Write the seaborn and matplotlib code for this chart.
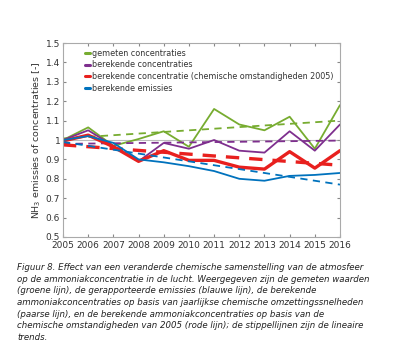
import numpy as np
import matplotlib
matplotlib.use("Agg")
import matplotlib.pyplot as plt
import seaborn as sns
import pandas as pd

# ====== DATA ======
jaren = list(range(2005, 2017))
gemeten = [1.00, 1.065, 0.97, 1.005, 1.045, 0.965, 1.16, 1.08, 1.05, 1.12, 0.955, 1.18]
berekend = [1.00, 1.05, 0.97, 0.89, 0.985, 0.955, 1.00, 0.945, 0.935, 1.045, 0.945, 1.08]
berekend_2005 = [0.995, 1.025, 0.965, 0.89, 0.945, 0.895, 0.895, 0.86, 0.85, 0.94, 0.855, 0.945]
emissies = [1.00, 1.02, 0.985, 0.90, 0.885, 0.865, 0.84, 0.80, 0.79, 0.815, 0.82, 0.83]

# trendlijnen: begin- en eindwaarde (2005, 2016)
trend_jaren = [2005, 2016]
trend_gemeten = [1.008, 1.10]
trend_berekend = [0.98, 0.997]
trend_berekend_2005 = [0.975, 0.87]
trend_emissies = [0.99, 0.77]

labels = ["gemeten concentraties", "berekende concentraties",
          "berekende concentratie (chemische omstandigheden 2005)", "berekende emissies"]
kleuren = ["#77AC30", "#7E2F8E", "#E8201E", "#0072BD"]
dikte = [1.3, 1.3, 2.4, 1.3]

caption = ("Figuur 8. Effect van een veranderde chemische samenstelling van de atmosfeer\n"
           "op de ammoniakconcentratie in de lucht. Weergegeven zijn de gemeten waarden\n"
           "(groene lijn), de gerapporteerde emissies (blauwe lijn), de berekende\n"
           "ammoniakconcentraties op basis van jaarlijkse chemische omzettingssnelheden\n"
           "(paarse lijn), en de berekende ammoniakconcentraties op basis van de\n"
           "chemische omstandigheden van 2005 (rode lijn); de stippellijnen zijn de lineaire\n"
           "trends.")

sns.set_style("white")
plt.rcParams['font.family'] = ['DejaVu Sans']

fig = plt.figure(figsize=(4.0, 3.52), dpi=100)
ax = fig.add_axes([63 / 400, 1 - 237 / 352, 277 / 400, 194 / 352])

ax.axhline(1.0, color="#bbbbbb", lw=0.8, zorder=0)

reeksen = [gemeten, berekend, berekend_2005, emissies]
trends = [trend_gemeten, trend_berekend, trend_berekend_2005, trend_emissies]
for reeks, trend, lab, kl, lw in zip(reeksen, trends, labels, kleuren, dikte):
    df = pd.DataFrame({"jaar": jaren, "waarde": reeks})
    sns.lineplot(data=df, x="jaar", y="waarde", color=kl, lw=lw, ax=ax, label=lab)
    dt = pd.DataFrame({"jaar": trend_jaren, "waarde": trend})
    sns.lineplot(data=dt, x="jaar", y="waarde", color=kl, lw=lw, ls=(0, (4, 3)), ax=ax)

ax.set_xlim(2005, 2016)
ax.set_ylim(0.5, 1.5)
ax.set_xticks(jaren)
ax.set_yticks(np.arange(0.5, 1.51, 0.1))
ax.set_yticklabels(["0.5", "0.6", "0.7", "0.8", "0.9", "1", "1.1", "1.2", "1.3", "1.4", "1.5"])
ax.tick_params(labelsize=6.5, direction="in", length=2.5, color="#888888",
               top=True, right=True, bottom=True, left=True, pad=2, labelcolor="#333333")
ax.tick_params(axis="x", pad=3)
ax.set_xlabel("")
ax.set_ylabel("NH$_3$ emissies of concentraties [-]", fontsize=6.8, color="#333333", labelpad=2)
for s in ax.spines.values():
    s.set_color("#aaaaaa")
    s.set_linewidth(0.8)

leg = ax.legend(loc="upper left", frameon=False, fontsize=5.8, handlelength=0.6,
                handletextpad=0.2, labelspacing=0.35, borderaxespad=0.3,
                bbox_to_anchor=(0.06, 1.0))
for t in leg.get_texts():
    t.set_color("#333333")
for h in leg.get_lines():
    h.set_linewidth(2.2)

fig.text(17 / 400, 1 - 263 / 352, caption, fontsize=6.25, style="italic",
         color="#222222", va="top", ha="left", linespacing=1.38)

fig.savefig("out.png", dpi=100)
